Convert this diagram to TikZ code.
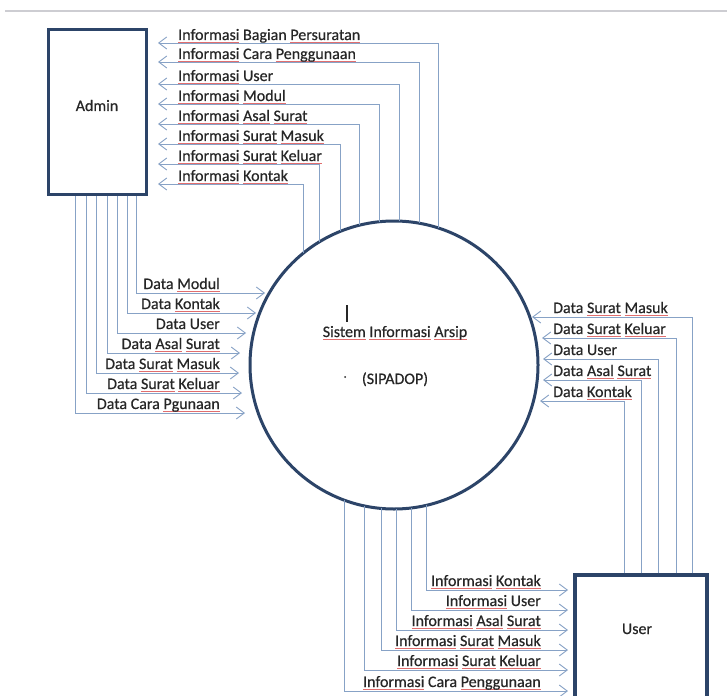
\documentclass[tikz,border=0pt]{standalone}
\usepackage{fontspec}
\setmainfont{Carlito}[FakeBold=0.5]
\usetikzlibrary{arrows.meta}
\definecolor{flowc}{RGB}{135,162,198}
\definecolor{boxc}{RGB}{44,68,104}
\definecolor{txtc}{RGB}{38,38,38}
\definecolor{sqc}{RGB}{225,110,110}
\definecolor{rulerc}{RGB}{205,205,210}
\newsavebox\sqbox
\newcommand\sq[1]{\leavevmode\sbox\sqbox{#1}\rlap{\textcolor{sqc}{\rule[-2.6pt]{\wd\sqbox}{0.8pt}}}\usebox\sqbox}
\tikzset{
  flow/.style={draw=flowc, line width=0.9pt, -{Straight Barb[length=8pt,width=12pt]}},
  entity/.style={draw=boxc, line width=3.5pt, rectangle, inner sep=0},
  lab/.style={inner sep=0, text=txtc, font=\fontsize{16}{19}\selectfont},
}
\begin{document}
\begin{tikzpicture}[x=1pt, y=-1pt]
\useasboundingbox (0,0) rectangle (727,695);
\fill[white] (0,0) rectangle (727,695);
\clip (0,0) rectangle (727,695);
% ruler line
\draw[rulerc, line width=2pt] (5,11) -- (727,11);

% entities and process
\node[entity, minimum width=98pt, minimum height=165pt] (admin) at (97.5,112) {};
\node[lab, anchor=base] (adminlbl) at (97,111) {Admin};
\node[entity, minimum width=132pt, minimum height=225pt] (user) at (641,687.5) {};
\node[lab, anchor=base] (userlbl) at (637,634) {User};
\node[circle, draw=boxc, line width=3pt, minimum size=288pt, inner sep=0, outer sep=0] (sys) at (394,365) {};
\node[lab, anchor=base] (sys1) at (395,337) {\sq{Sistem} \sq{Informasi} \sq{Arsip}};
\node[lab, anchor=base] (sys2) at (395,384) {(SIPADOP)};
\draw[txtc, line width=1.6pt] (347,305) -- (347,322);
\fill[txtc] (345,377) circle (1pt);

% ---- top: Informasi -> Admin
\coordinate (aT1) at (158,43);
\coordinate (aT2) at (158,62);
\coordinate (aT3) at (158,84);
\coordinate (aT4) at (158,104);
\coordinate (aT5) at (158,124);
\coordinate (aT6) at (158,144);
\coordinate (aT7) at (158,164);
\coordinate (aT8) at (158,184);
\draw[flow] (sys.72.21) |- (aT1);
\draw[flow] (sys.80.41) |- (aT2);
\draw[flow] (sys.88.41) |- (aT3);
\draw[flow] (sys.96.98) |- (aT4);
\draw[flow] (sys.104.89) |- (aT5);
\draw[flow] (sys.112.89) |- (aT6);
\draw[flow] (sys.121.62) |- (aT7);
\draw[flow] (sys.129.71) |- (aT8);
\node[lab, anchor=base west] (t1) at (178,40) {\sq{Informasi} Bagian \sq{Persuratan}};
\node[lab, anchor=base west] (t2) at (178,59) {\sq{Informasi} Cara \sq{Penggunaan}};
\node[lab, anchor=base west] (t3) at (178,81) {\sq{Informasi} User};
\node[lab, anchor=base west] (t4) at (178,101) {\sq{Informasi} \sq{Modul}};
\node[lab, anchor=base west] (t5) at (178,121) {\sq{Informasi} \sq{Asal} \sq{Surat}};
\node[lab, anchor=base west] (t6) at (178,141) {\sq{Informasi} \sq{Surat} \sq{Masuk}};
\node[lab, anchor=base west] (t7) at (178,161) {\sq{Informasi} \sq{Surat} \sq{Keluar}};
\node[lab, anchor=base west] (t8) at (178,181) {\sq{Informasi} \sq{Kontak}};

% ---- left: Admin -> Data
\coordinate (lT1) at (265,293);
\coordinate (lT2) at (256,313);
\coordinate (lT3) at (246,333);
\coordinate (lT4) at (240,353);
\coordinate (lT5) at (239,373);
\coordinate (lT6) at (242,393);
\coordinate (lT7) at (245,413);
\draw[flow] (admin.south -| 136,0) |- (lT1);
\draw[flow] (admin.south -| 127,0) |- (lT2);
\draw[flow] (admin.south -| 117.5,0) |- (lT3);
\draw[flow] (admin.south -| 107,0) |- (lT4);
\draw[flow] (admin.south -| 96.5,0) |- (lT5);
\draw[flow] (admin.south -| 86,0) |- (lT6);
\draw[flow] (admin.south -| 75,0) |- (lT7);
\node[lab, anchor=base east] (l1) at (220,289) {Data \sq{Modul}};
\node[lab, anchor=base east] (l2) at (220,309) {Data \sq{Kontak}};
\node[lab, anchor=base east] (l3) at (220,329) {Data User};
\node[lab, anchor=base east] (l4) at (220,349) {Data \sq{Asal} \sq{Surat}};
\node[lab, anchor=base east] (l5) at (220,369) {Data \sq{Surat} \sq{Masuk}};
\node[lab, anchor=base east] (l6) at (220,389) {Data \sq{Surat} \sq{Keluar}};
\node[lab, anchor=base east] (l7) at (220,409) {Data Cara \sq{Pgunaan}};

% ---- right: User -> Data
\coordinate (rT1) at (532,317);
\coordinate (rT2) at (542,338);
\coordinate (rT3) at (543,359);
\coordinate (rT4) at (543,380);
\coordinate (rT5) at (540,401);
\draw[flow] (user.north -| 692.5,0) |- (rT1);
\draw[flow] (user.north -| 676,0) |- (rT2);
\draw[flow] (user.north -| 658.5,0) |- (rT3);
\draw[flow] (user.north -| 641,0) |- (rT4);
\draw[flow] (user.north -| 624,0) |- (rT5);
\node[lab, anchor=base west] (r1) at (553,313) {Data \sq{Surat} \sq{Masuk}};
\node[lab, anchor=base west] (r2) at (553,334) {Data \sq{Surat} \sq{Keluar}};
\node[lab, anchor=base west] (r3) at (553,355) {Data User};
\node[lab, anchor=base west] (r4) at (553,376) {Data \sq{Asal} \sq{Surat}};
\node[lab, anchor=base west] (r5) at (553,397) {Data \sq{Kontak}};

% ---- bottom: Informasi -> User
\coordinate (bT1) at (568,590);
\coordinate (bT2) at (568,610);
\coordinate (bT3) at (568,630);
\coordinate (bT4) at (568,650);
\coordinate (bT5) at (568,670);
\coordinate (bT6) at (568,691);
\draw[flow] (sys.-77.16) |- (bT1);
\draw[flow] (sys.-83.62) |- (bT2);
\draw[flow] (sys.-89.20) |- (bT3);
\draw[flow] (sys.-95.58) |- (bT4);
\draw[flow] (sys.-102.84) |- (bT5);
\draw[flow] (sys.-110.32) |- (bT6);
\node[lab, anchor=base east] (b1) at (541,586) {\sq{Informasi} \sq{Kontak}};
\node[lab, anchor=base east] (b2) at (541,606) {\sq{Informasi} User};
\node[lab, anchor=base east] (b3) at (541,626) {\sq{Informasi} \sq{Asal} \sq{Surat}};
\node[lab, anchor=base east] (b4) at (541,646) {\sq{Informasi} \sq{Surat} \sq{Masuk}};
\node[lab, anchor=base east] (b5) at (541,666) {\sq{Informasi} \sq{Surat} \sq{Keluar}};
\node[lab, anchor=base east] (b6) at (541,687) {\sq{Informasi} Cara \sq{Penggunaan}};
\end{tikzpicture}
\end{document}
